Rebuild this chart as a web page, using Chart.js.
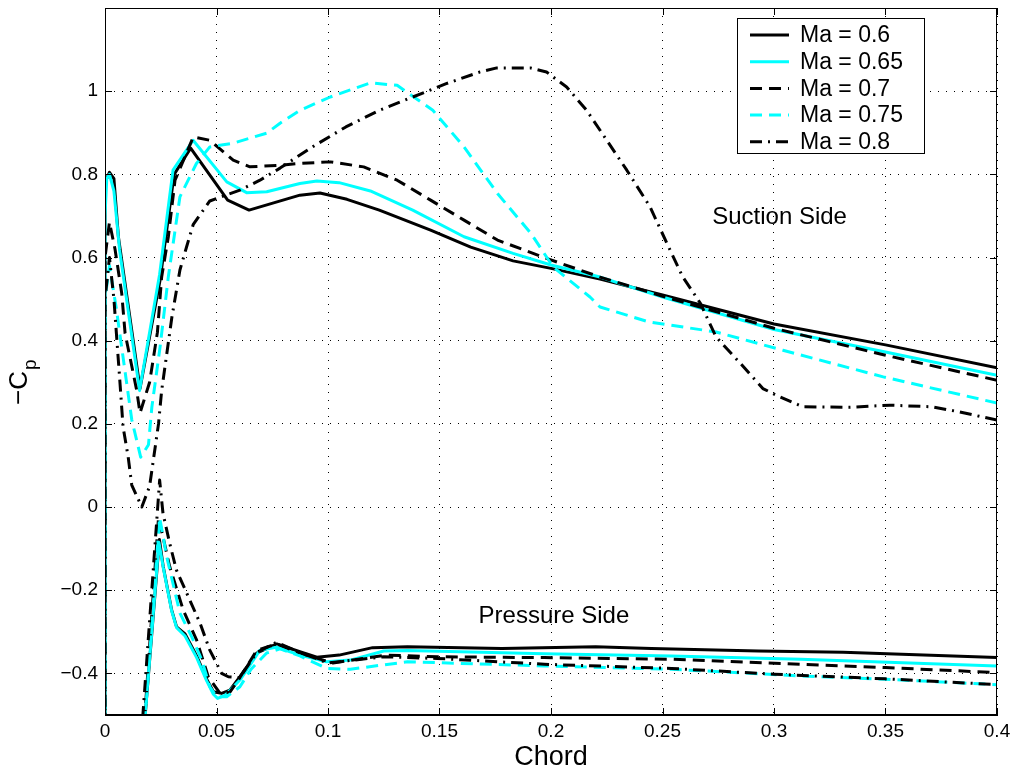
<!DOCTYPE html>
<html>
<head>
<meta charset="utf-8">
<script src="https://cdn.jsdelivr.net/npm/chart.js@4.4.1/dist/chart.umd.min.js"></script>
<style>
  body { margin: 0; background: #fff; }
  canvas { display: block; }
</style>
</head>
<body>
<canvas id="cpChart" width="1016" height="774"></canvas>
<script>
// Pressure coefficient along the first 40% of chord, one curve per Mach number.
// Each side is [chord, -Cp] pairs, ascending chord.
const machLabels = ['Ma = 0.6', 'Ma = 0.65', 'Ma = 0.7', 'Ma = 0.75', 'Ma = 0.8'];

const suction06 = [[0, 0.78], [0.002, 0.805], [0.004, 0.79], [0.006, 0.65], [0.0157, 0.285], [0.0247, 0.546],
  [0.031, 0.80], [0.0384, 0.863], [0.055, 0.738], [0.0646, 0.714], [0.0874, 0.75], [0.0964, 0.755],
  [0.1085, 0.74], [0.123, 0.714], [0.146, 0.666], [0.164, 0.625], [0.183, 0.592], [0.2, 0.574],
  [0.222, 0.548], [0.25, 0.51], [0.3, 0.44], [0.35, 0.39], [0.4, 0.335]];
const pressure06 = [[0, -1.1], [0.0135, -0.8], [0.0244, -0.078], [0.0261, -0.143], [0.0299, -0.248],
  [0.0321, -0.288], [0.0359, -0.305], [0.0411, -0.358], [0.0456, -0.414], [0.0486, -0.444], [0.0523, -0.448],
  [0.056, -0.44], [0.0605, -0.408], [0.068, -0.351], [0.077, -0.329], [0.0874, -0.348], [0.095, -0.361],
  [0.105, -0.356], [0.12, -0.338], [0.1356, -0.336], [0.178, -0.34], [0.22, -0.336], [0.245, -0.34],
  [0.293, -0.346], [0.331, -0.349], [0.4, -0.362]];

const suction065 = [[0, 0.7], [0.0008, 0.79], [0.002, 0.80], [0.004, 0.76], [0.0065, 0.62], [0.0155, 0.28],
  [0.0245, 0.56], [0.0305, 0.81], [0.0395, 0.882], [0.0546, 0.782], [0.0635, 0.756], [0.0725, 0.758],
  [0.0874, 0.778], [0.095, 0.784], [0.105, 0.78], [0.119, 0.76], [0.138, 0.714], [0.161, 0.65],
  [0.183, 0.61], [0.2, 0.582], [0.222, 0.553], [0.25, 0.505], [0.3, 0.427], [0.35, 0.373], [0.4, 0.317]];
const pressure065 = [[0, -1.1], [0.0135, -0.8], [0.0242, -0.085], [0.0261, -0.145], [0.0299, -0.25],
  [0.0321, -0.29], [0.0359, -0.31], [0.0411, -0.362], [0.0456, -0.418], [0.0486, -0.45], [0.0505, -0.46],
  [0.054, -0.452], [0.0605, -0.416], [0.0695, -0.344], [0.077, -0.337], [0.0874, -0.356], [0.0994, -0.372],
  [0.11, -0.368], [0.125, -0.346], [0.1356, -0.345], [0.197, -0.353], [0.254, -0.358], [0.312, -0.366],
  [0.4, -0.382]];

const suction07 = [[0, 0.6], [0.002, 0.685], [0.0045, 0.62], [0.0075, 0.514], [0.009, 0.418], [0.0142, 0.281],
  [0.0157, 0.226], [0.02, 0.3], [0.0235, 0.42], [0.0254, 0.553], [0.0284, 0.65], [0.0314, 0.786],
  [0.0396, 0.89], [0.047, 0.882], [0.0575, 0.834], [0.065, 0.818], [0.0785, 0.822], [0.087, 0.826],
  [0.101, 0.83], [0.116, 0.818], [0.131, 0.786], [0.146, 0.738], [0.161, 0.69], [0.176, 0.642],
  [0.198, 0.598], [0.222, 0.553], [0.25, 0.507], [0.3, 0.43], [0.35, 0.365], [0.4, 0.305]];
const pressure07 = [[0, -1.1], [0.014, -0.8], [0.024, -0.025], [0.029, -0.143], [0.0351, -0.248],
  [0.0411, -0.32], [0.0463, -0.408], [0.0516, -0.448], [0.056, -0.445], [0.0605, -0.41], [0.068, -0.345],
  [0.077, -0.329], [0.0874, -0.351], [0.1022, -0.375], [0.126, -0.356], [0.149, -0.36], [0.197, -0.362],
  [0.254, -0.366], [0.312, -0.378], [0.35, -0.386], [0.4, -0.398]];

const suction075 = [[0, 0.5], [0.002, 0.58], [0.005, 0.48], [0.012, 0.21], [0.016, 0.12], [0.0195, 0.15],
  [0.021, 0.24], [0.0247, 0.385], [0.0284, 0.554], [0.0336, 0.746], [0.041, 0.826], [0.047, 0.866],
  [0.0575, 0.875], [0.0725, 0.899], [0.0785, 0.923], [0.0874, 0.954], [0.101, 0.986], [0.119, 1.02],
  [0.131, 1.014], [0.147, 0.954], [0.161, 0.866], [0.176, 0.754], [0.191, 0.658], [0.201, 0.577],
  [0.2175, 0.505], [0.222, 0.481], [0.244, 0.445], [0.274, 0.421], [0.304, 0.377], [0.349, 0.313],
  [0.4, 0.25]];
const pressure075 = [[0, -1.1], [0.014, -0.8], [0.0245, -0.025], [0.0277, -0.12], [0.0336, -0.255],
  [0.0389, -0.312], [0.0434, -0.368], [0.047, -0.432], [0.05, -0.456], [0.0546, -0.456], [0.0605, -0.432],
  [0.0655, -0.39], [0.0725, -0.351], [0.0785, -0.341], [0.0874, -0.358], [0.0994, -0.388], [0.11, -0.39],
  [0.1356, -0.372], [0.197, -0.382], [0.254, -0.39], [0.312, -0.406], [0.35, -0.414], [0.4, -0.427]];

const suction08 = [[0, 0.5], [0.002, 0.6], [0.004, 0.5], [0.0067, 0.3], [0.0081, 0.193], [0.0104, 0.12],
  [0.012, 0.053], [0.0165, 0.0], [0.02, 0.05], [0.024, 0.2], [0.0254, 0.28], [0.03, 0.457], [0.0336, 0.57],
  [0.0366, 0.626], [0.0396, 0.68], [0.047, 0.736], [0.0605, 0.762], [0.0695, 0.786], [0.0785, 0.815],
  [0.093, 0.866], [0.108, 0.914], [0.123, 0.954], [0.138, 0.986], [0.153, 1.018], [0.168, 1.046],
  [0.1757, 1.056], [0.1906, 1.056], [0.198, 1.046], [0.207, 1.01], [0.216, 0.954], [0.225, 0.882],
  [0.234, 0.81], [0.2444, 0.722], [0.252, 0.634], [0.259, 0.554], [0.267, 0.49], [0.274, 0.409],
  [0.285, 0.345], [0.295, 0.285], [0.301, 0.269], [0.313, 0.241], [0.334, 0.24], [0.352, 0.245],
  [0.371, 0.241], [0.383, 0.229], [0.4, 0.209]];
const pressure08 = [[0, -1.1], [0.013, -0.8], [0.0245, 0.065], [0.026, -0.015], [0.029, -0.087],
  [0.032, -0.151], [0.0374, -0.216], [0.0426, -0.279], [0.047, -0.344], [0.0523, -0.4], [0.0553, -0.408],
  [0.0605, -0.41], [0.068, -0.35], [0.077, -0.325], [0.0874, -0.35], [0.1, -0.375], [0.125, -0.36],
  [0.149, -0.364], [0.197, -0.378], [0.254, -0.388], [0.3, -0.402], [0.35, -0.413], [0.4, -0.427]];

const xTicks = [0, 0.05, 0.1, 0.15, 0.2, 0.25, 0.3, 0.35, 0.4];
const yTicks = [-0.4, -0.2, 0, 0.2, 0.4, 0.6, 0.8, 1];

const FONT = "'Liberation Sans', Arial, Helvetica, sans-serif";
const lineColors = ['#000000', '#00ffff', '#000000', '#00ffff', '#000000'];
const lineDashes = [[], [], [12, 7], [12, 7], [12, 6, 2, 6]];

// suction side is walked back to the leading edge, then out along the pressure side
function surface(suction, pressure) {
  return suction.slice().reverse().concat(pressure).map(p => ({ x: p[0], y: p[1] }));
}

function fmt(v) {
  return String(Math.round(v * 100) / 100).replace('-', '\u2212');
}

const curves = [
  surface(suction06, pressure06),
  surface(suction065, pressure065),
  surface(suction07, pressure07),
  surface(suction075, pressure075),
  surface(suction08, pressure08)
];

const datasets = curves.map((pts, i) => ({
  label: machLabels[i],
  data: pts,
  showLine: true,
  borderColor: lineColors[i],
  backgroundColor: lineColors[i],
  borderWidth: 3,
  borderDash: lineDashes[i],
  borderCapStyle: 'butt',
  borderJoinStyle: 'round',
  pointRadius: 0,
  tension: 0,
  order: machLabels.length - i   // later Mach numbers drawn on top
}));

const matlabFrame = {
  id: 'matlabFrame',
  afterDraw(chart) {
    const { ctx, chartArea: a, scales } = chart;
    const xs = scales.x, ys = scales.y;
    ctx.save();

    // box and inward ticks on all four sides
    ctx.strokeStyle = '#000';
    ctx.lineWidth = 1;
    ctx.strokeRect(a.left + 0.5, a.top + 0.5, a.right - a.left - 1, a.bottom - a.top - 1);
    const tl = 7;
    ctx.beginPath();
    xTicks.forEach(v => {
      const px = Math.round(xs.getPixelForValue(v)) + 0.5;
      ctx.moveTo(px, a.bottom); ctx.lineTo(px, a.bottom - tl);
      ctx.moveTo(px, a.top); ctx.lineTo(px, a.top + tl);
    });
    yTicks.forEach(v => {
      const py = Math.round(ys.getPixelForValue(v)) + 0.5;
      ctx.moveTo(a.left, py); ctx.lineTo(a.left + tl, py);
      ctx.moveTo(a.right, py); ctx.lineTo(a.right - tl, py);
    });
    ctx.stroke();

    // side annotations
    ctx.fillStyle = '#000';
    ctx.font = '24px ' + FONT;
    ctx.textAlign = 'center';
    ctx.textBaseline = 'middle';
    ctx.fillText('Suction Side', xs.getPixelForValue(0.3025), ys.getPixelForValue(0.697));
    ctx.fillText('Pressure Side', xs.getPixelForValue(0.2013), ys.getPixelForValue(-0.262));

    // y axis title: -C with subscript p
    ctx.save();
    ctx.translate(27, 388);
    ctx.rotate(-Math.PI / 2);
    ctx.textAlign = 'left';
    ctx.textBaseline = 'alphabetic';
    ctx.font = '26px ' + FONT;
    const main = '\u2212C';
    const w = ctx.measureText(main).width;
    ctx.fillText(main, -w / 2, 0);
    ctx.font = '19px ' + FONT;
    ctx.fillText('p', w / 2 + 1, 9);
    ctx.restore();

    // legend box
    const lx = 737, ly = 18, lw = 187, lh = 135;
    ctx.fillStyle = '#fff';
    ctx.fillRect(lx, ly, lw, lh);
    ctx.strokeStyle = '#000';
    ctx.lineWidth = 1;
    ctx.strokeRect(lx + 0.5, ly + 0.5, lw, lh);
    ctx.font = '23px ' + FONT;
    ctx.textAlign = 'left';
    ctx.textBaseline = 'middle';
    chart.data.datasets.forEach((ds, i) => {
      const ry = 35 + i * 26.7;
      ctx.save();
      ctx.strokeStyle = ds.borderColor;
      ctx.lineWidth = ds.borderWidth;
      ctx.setLineDash(ds.borderDash);
      ctx.beginPath();
      ctx.moveTo(750, ry);
      ctx.lineTo(789, ry);
      ctx.stroke();
      ctx.restore();
      ctx.fillStyle = '#000';
      ctx.fillText(ds.label, 800, ry + 1);
    });
    ctx.restore();
  }
};

Chart.defaults.font.family = FONT;
Chart.defaults.color = '#000';

new Chart(document.getElementById('cpChart'), {
  type: 'scatter',
  data: { datasets },
  options: {
    responsive: false,
    animation: false,
    layout: { padding: { top: 8, right: 19, left: 0, bottom: 0 } },
    plugins: { legend: { display: false }, tooltip: { enabled: false } },
    scales: {
      x: {
        type: 'linear', min: 0, max: 0.4,
        afterBuildTicks: s => { s.ticks = xTicks.map(v => ({ value: v })); },
        afterFit: s => { s.height = 59; s.paddingLeft = 0; s.paddingRight = 0; },
        grid: { color: '#000', lineWidth: 1, drawTicks: false },
        border: { color: '#000', width: 1, dash: [1, 7] },
        ticks: { color: '#000', font: { size: 19 }, padding: 5, maxRotation: 0, autoSkip: false, callback: v => fmt(v) },
        title: { display: true, text: 'Chord', color: '#000', font: { size: 27 }, padding: 0 }
      },
      y: {
        type: 'linear', min: -0.5, max: 1.2,
        afterBuildTicks: s => { s.ticks = yTicks.map(v => ({ value: v })); },
        afterFit: s => { s.width = 105; s.paddingTop = 0; s.paddingBottom = 0; },
        grid: { color: '#000', lineWidth: 1, drawTicks: false },
        border: { color: '#000', width: 1, dash: [1, 7] },
        ticks: { color: '#000', font: { size: 19 }, padding: 7, autoSkip: false, callback: v => fmt(v) }
      }
    }
  },
  plugins: [matlabFrame]
});
</script>
</body>
</html>
